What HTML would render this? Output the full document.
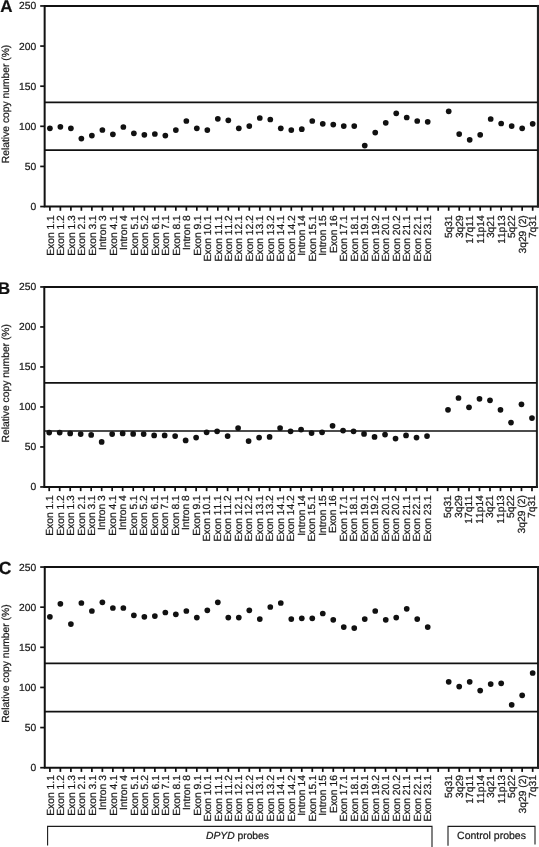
<!DOCTYPE html>
<html><head><meta charset="utf-8"><title>Figure</title>
<style>html,body{margin:0;padding:0;background:#fff;}body{width:539px;height:847px;overflow:hidden;position:relative;font-family:"Liberation Sans",sans-serif;}text{text-rendering:geometricPrecision;font-kerning:none;stroke:#1a1a1a;stroke-width:0.22px;}</style>
</head><body>
<svg width="539" height="847" viewBox="0 0 539 847" style="position:absolute;left:0;top:0;will-change:transform" font-family="'Liberation Sans', sans-serif" font-size="10.3" fill="#1a1a1a">
<rect x="0" y="0" width="539" height="847" fill="#fff"/>
<path d="M537.9 5.95H44.65V206.55H537.9" fill="none" stroke="#111" stroke-width="2.0" stroke-linecap="square"/>
<rect x="536.90" y="4.95" width="2.3" height="202.60" fill="#222"/>
<path d="M44.65 102.40H537.9" stroke="#111" stroke-width="1.7" fill="none"/>
<path d="M44.65 150.20H537.9" stroke="#111" stroke-width="1.7" fill="none"/>
<path d="M40.2 206.55H44.65" stroke="#111" stroke-width="1.7" fill="none"/>
<text x="36.15" y="210.00" text-anchor="end">0</text>
<path d="M40.2 166.43H44.65" stroke="#111" stroke-width="1.7" fill="none"/>
<text x="36.15" y="169.88" text-anchor="end">50</text>
<path d="M40.2 126.31H44.65" stroke="#111" stroke-width="1.7" fill="none"/>
<text x="36.15" y="129.76" text-anchor="end">100</text>
<path d="M40.2 86.19H44.65" stroke="#111" stroke-width="1.7" fill="none"/>
<text x="36.15" y="89.64" text-anchor="end">150</text>
<path d="M40.2 46.07H44.65" stroke="#111" stroke-width="1.7" fill="none"/>
<text x="36.15" y="49.52" text-anchor="end">200</text>
<path d="M40.2 5.95H44.65" stroke="#111" stroke-width="1.7" fill="none"/>
<text x="36.15" y="9.40" text-anchor="end">250</text>
<path d="M49.90 206.55V210.75" stroke="#111" stroke-width="1.7" fill="none"/>
<text transform="translate(53.75 215.20) rotate(-90)" text-anchor="end">Exon 1.1</text>
<path d="M60.39 206.55V210.75" stroke="#111" stroke-width="1.7" fill="none"/>
<text transform="translate(64.24 215.20) rotate(-90)" text-anchor="end">Exon 1.2</text>
<path d="M70.89 206.55V210.75" stroke="#111" stroke-width="1.7" fill="none"/>
<text transform="translate(74.72 215.20) rotate(-90)" text-anchor="end">Exon 1.3</text>
<path d="M81.38 206.55V210.75" stroke="#111" stroke-width="1.7" fill="none"/>
<text transform="translate(85.21 215.20) rotate(-90)" text-anchor="end">Exon 2.1</text>
<path d="M91.88 206.55V210.75" stroke="#111" stroke-width="1.7" fill="none"/>
<text transform="translate(95.69 215.20) rotate(-90)" text-anchor="end">Exon 3.1</text>
<path d="M102.38 206.55V210.75" stroke="#111" stroke-width="1.7" fill="none"/>
<text transform="translate(106.18 215.20) rotate(-90)" text-anchor="end">Intron 3</text>
<path d="M112.87 206.55V210.75" stroke="#111" stroke-width="1.7" fill="none"/>
<text transform="translate(116.66 215.20) rotate(-90)" text-anchor="end">Exon 4.1</text>
<path d="M123.36 206.55V210.75" stroke="#111" stroke-width="1.7" fill="none"/>
<text transform="translate(127.15 215.20) rotate(-90)" text-anchor="end">Intron 4</text>
<path d="M133.86 206.55V210.75" stroke="#111" stroke-width="1.7" fill="none"/>
<text transform="translate(137.63 215.20) rotate(-90)" text-anchor="end">Exon 5.1</text>
<path d="M144.35 206.55V210.75" stroke="#111" stroke-width="1.7" fill="none"/>
<text transform="translate(148.12 215.20) rotate(-90)" text-anchor="end">Exon 5.2</text>
<path d="M154.85 206.55V210.75" stroke="#111" stroke-width="1.7" fill="none"/>
<text transform="translate(158.60 215.20) rotate(-90)" text-anchor="end">Exon 6.1</text>
<path d="M165.34 206.55V210.75" stroke="#111" stroke-width="1.7" fill="none"/>
<text transform="translate(169.09 215.20) rotate(-90)" text-anchor="end">Exon 7.1</text>
<path d="M175.84 206.55V210.75" stroke="#111" stroke-width="1.7" fill="none"/>
<text transform="translate(179.57 215.20) rotate(-90)" text-anchor="end">Exon 8.1</text>
<path d="M186.34 206.55V210.75" stroke="#111" stroke-width="1.7" fill="none"/>
<text transform="translate(190.06 215.20) rotate(-90)" text-anchor="end">Intron 8</text>
<path d="M196.83 206.55V210.75" stroke="#111" stroke-width="1.7" fill="none"/>
<text transform="translate(200.54 215.20) rotate(-90)" text-anchor="end">Exon 9.1</text>
<path d="M207.32 206.55V210.75" stroke="#111" stroke-width="1.7" fill="none"/>
<text transform="translate(211.03 215.20) rotate(-90)" text-anchor="end">Exon 10.1</text>
<path d="M217.82 206.55V210.75" stroke="#111" stroke-width="1.7" fill="none"/>
<text transform="translate(221.51 215.20) rotate(-90)" text-anchor="end">Exon 11.1</text>
<path d="M228.31 206.55V210.75" stroke="#111" stroke-width="1.7" fill="none"/>
<text transform="translate(232.00 215.20) rotate(-90)" text-anchor="end">Exon 11.2</text>
<path d="M238.81 206.55V210.75" stroke="#111" stroke-width="1.7" fill="none"/>
<text transform="translate(242.48 215.20) rotate(-90)" text-anchor="end">Exon 12.1</text>
<path d="M249.30 206.55V210.75" stroke="#111" stroke-width="1.7" fill="none"/>
<text transform="translate(252.97 215.20) rotate(-90)" text-anchor="end">Exon 12.2</text>
<path d="M259.80 206.55V210.75" stroke="#111" stroke-width="1.7" fill="none"/>
<text transform="translate(263.45 215.20) rotate(-90)" text-anchor="end">Exon 13.1</text>
<path d="M270.29 206.55V210.75" stroke="#111" stroke-width="1.7" fill="none"/>
<text transform="translate(273.94 215.20) rotate(-90)" text-anchor="end">Exon 13.2</text>
<path d="M280.79 206.55V210.75" stroke="#111" stroke-width="1.7" fill="none"/>
<text transform="translate(284.42 215.20) rotate(-90)" text-anchor="end">Exon 14.1</text>
<path d="M291.28 206.55V210.75" stroke="#111" stroke-width="1.7" fill="none"/>
<text transform="translate(294.91 215.20) rotate(-90)" text-anchor="end">Exon 14.2</text>
<path d="M301.78 206.55V210.75" stroke="#111" stroke-width="1.7" fill="none"/>
<text transform="translate(305.40 215.20) rotate(-90)" text-anchor="end">Intron 14</text>
<path d="M312.27 206.55V210.75" stroke="#111" stroke-width="1.7" fill="none"/>
<text transform="translate(315.88 215.20) rotate(-90)" text-anchor="end">Exon 15.1</text>
<path d="M322.77 206.55V210.75" stroke="#111" stroke-width="1.7" fill="none"/>
<text transform="translate(326.37 215.20) rotate(-90)" text-anchor="end">Intron 15</text>
<path d="M333.26 206.55V210.75" stroke="#111" stroke-width="1.7" fill="none"/>
<text transform="translate(336.85 215.20) rotate(-90)" text-anchor="end">Exon 16</text>
<path d="M343.76 206.55V210.75" stroke="#111" stroke-width="1.7" fill="none"/>
<text transform="translate(347.34 215.20) rotate(-90)" text-anchor="end">Exon 17.1</text>
<path d="M354.25 206.55V210.75" stroke="#111" stroke-width="1.7" fill="none"/>
<text transform="translate(357.82 215.20) rotate(-90)" text-anchor="end">Exon 18.1</text>
<path d="M364.75 206.55V210.75" stroke="#111" stroke-width="1.7" fill="none"/>
<text transform="translate(368.31 215.20) rotate(-90)" text-anchor="end">Exon 19.1</text>
<path d="M375.24 206.55V210.75" stroke="#111" stroke-width="1.7" fill="none"/>
<text transform="translate(378.79 215.20) rotate(-90)" text-anchor="end">Exon 19.2</text>
<path d="M385.74 206.55V210.75" stroke="#111" stroke-width="1.7" fill="none"/>
<text transform="translate(389.28 215.20) rotate(-90)" text-anchor="end">Exon 20.1</text>
<path d="M396.23 206.55V210.75" stroke="#111" stroke-width="1.7" fill="none"/>
<text transform="translate(399.76 215.20) rotate(-90)" text-anchor="end">Exon 20.2</text>
<path d="M406.73 206.55V210.75" stroke="#111" stroke-width="1.7" fill="none"/>
<text transform="translate(410.25 215.20) rotate(-90)" text-anchor="end">Exon 21.1</text>
<path d="M417.22 206.55V210.75" stroke="#111" stroke-width="1.7" fill="none"/>
<text transform="translate(420.73 215.20) rotate(-90)" text-anchor="end">Exon 22.1</text>
<path d="M427.72 206.55V210.75" stroke="#111" stroke-width="1.7" fill="none"/>
<text transform="translate(431.22 215.20) rotate(-90)" text-anchor="end">Exon 23.1</text>
<path d="M438.21 206.55V210.75" stroke="#111" stroke-width="1.7" fill="none"/>
<path d="M448.71 206.55V210.75" stroke="#111" stroke-width="1.7" fill="none"/>
<text transform="translate(452.19 215.20) rotate(-90)" text-anchor="end">5q31</text>
<path d="M459.20 206.55V210.75" stroke="#111" stroke-width="1.7" fill="none"/>
<text transform="translate(462.67 215.20) rotate(-90)" text-anchor="end">3q29</text>
<path d="M469.70 206.55V210.75" stroke="#111" stroke-width="1.7" fill="none"/>
<text transform="translate(473.16 215.20) rotate(-90)" text-anchor="end">17q11</text>
<path d="M480.19 206.55V210.75" stroke="#111" stroke-width="1.7" fill="none"/>
<text transform="translate(483.64 215.20) rotate(-90)" text-anchor="end">11p14</text>
<path d="M490.69 206.55V210.75" stroke="#111" stroke-width="1.7" fill="none"/>
<text transform="translate(494.13 215.20) rotate(-90)" text-anchor="end">3q21</text>
<path d="M501.18 206.55V210.75" stroke="#111" stroke-width="1.7" fill="none"/>
<text transform="translate(504.61 215.20) rotate(-90)" text-anchor="end">11p13</text>
<path d="M511.68 206.55V210.75" stroke="#111" stroke-width="1.7" fill="none"/>
<text transform="translate(515.10 215.20) rotate(-90)" text-anchor="end">5q22</text>
<path d="M522.17 206.55V210.75" stroke="#111" stroke-width="1.7" fill="none"/>
<text transform="translate(525.58 215.20) rotate(-90)" text-anchor="end">3q29 (2)</text>
<path d="M532.67 206.55V210.75" stroke="#111" stroke-width="1.7" fill="none"/>
<text transform="translate(536.07 215.20) rotate(-90)" text-anchor="end">7q31</text>
<circle cx="49.90" cy="128.30" r="2.85" fill="#111"/>
<circle cx="60.39" cy="126.80" r="2.85" fill="#111"/>
<circle cx="70.89" cy="128.30" r="2.85" fill="#111"/>
<circle cx="81.38" cy="138.60" r="2.85" fill="#111"/>
<circle cx="91.88" cy="135.60" r="2.85" fill="#111"/>
<circle cx="102.38" cy="130.00" r="2.85" fill="#111"/>
<circle cx="112.87" cy="134.30" r="2.85" fill="#111"/>
<circle cx="123.36" cy="127.00" r="2.85" fill="#111"/>
<circle cx="133.86" cy="133.30" r="2.85" fill="#111"/>
<circle cx="144.35" cy="134.80" r="2.85" fill="#111"/>
<circle cx="154.85" cy="134.00" r="2.85" fill="#111"/>
<circle cx="165.34" cy="135.60" r="2.85" fill="#111"/>
<circle cx="175.84" cy="130.10" r="2.85" fill="#111"/>
<circle cx="186.34" cy="121.00" r="2.85" fill="#111"/>
<circle cx="196.83" cy="128.30" r="2.85" fill="#111"/>
<circle cx="207.32" cy="130.10" r="2.85" fill="#111"/>
<circle cx="217.82" cy="118.80" r="2.85" fill="#111"/>
<circle cx="228.31" cy="120.30" r="2.85" fill="#111"/>
<circle cx="238.81" cy="128.30" r="2.85" fill="#111"/>
<circle cx="249.30" cy="126.10" r="2.85" fill="#111"/>
<circle cx="259.80" cy="118.00" r="2.85" fill="#111"/>
<circle cx="270.29" cy="119.50" r="2.85" fill="#111"/>
<circle cx="280.79" cy="128.30" r="2.85" fill="#111"/>
<circle cx="291.28" cy="130.10" r="2.85" fill="#111"/>
<circle cx="301.78" cy="129.20" r="2.85" fill="#111"/>
<circle cx="312.27" cy="121.00" r="2.85" fill="#111"/>
<circle cx="322.77" cy="123.80" r="2.85" fill="#111"/>
<circle cx="333.26" cy="124.60" r="2.85" fill="#111"/>
<circle cx="343.76" cy="126.10" r="2.85" fill="#111"/>
<circle cx="354.25" cy="126.10" r="2.85" fill="#111"/>
<circle cx="364.75" cy="145.60" r="2.85" fill="#111"/>
<circle cx="375.24" cy="132.60" r="2.85" fill="#111"/>
<circle cx="385.74" cy="122.80" r="2.85" fill="#111"/>
<circle cx="396.23" cy="113.30" r="2.85" fill="#111"/>
<circle cx="406.73" cy="117.50" r="2.85" fill="#111"/>
<circle cx="417.22" cy="121.00" r="2.85" fill="#111"/>
<circle cx="427.72" cy="121.80" r="2.85" fill="#111"/>
<circle cx="448.71" cy="111.30" r="2.85" fill="#111"/>
<circle cx="459.20" cy="134.10" r="2.85" fill="#111"/>
<circle cx="469.70" cy="139.80" r="2.85" fill="#111"/>
<circle cx="480.19" cy="134.80" r="2.85" fill="#111"/>
<circle cx="490.69" cy="119.00" r="2.85" fill="#111"/>
<circle cx="501.18" cy="123.50" r="2.85" fill="#111"/>
<circle cx="511.68" cy="126.10" r="2.85" fill="#111"/>
<circle cx="522.17" cy="128.30" r="2.85" fill="#111"/>
<circle cx="532.67" cy="123.80" r="2.85" fill="#111"/>
<text transform="translate(9.0 103.95) rotate(-90)" text-anchor="middle">Relative copy number (%)</text>
<text x="0.2" y="12.1" font-size="17" font-weight="bold" fill="#111">A</text>
<path d="M536.9 286.95H44.3V486.95H536.9" fill="none" stroke="#111" stroke-width="2.0" stroke-linecap="square"/>
<rect x="535.90" y="285.95" width="2.0" height="202.00" fill="#222"/>
<path d="M44.3 382.80H536.9" stroke="#111" stroke-width="1.7" fill="none"/>
<path d="M44.3 431.00H536.9" stroke="#111" stroke-width="1.7" fill="none"/>
<path d="M40.2 486.95H44.3" stroke="#111" stroke-width="1.7" fill="none"/>
<text x="36.15" y="490.40" text-anchor="end">0</text>
<path d="M40.2 446.95H44.3" stroke="#111" stroke-width="1.7" fill="none"/>
<text x="36.15" y="450.40" text-anchor="end">50</text>
<path d="M40.2 406.95H44.3" stroke="#111" stroke-width="1.7" fill="none"/>
<text x="36.15" y="410.40" text-anchor="end">100</text>
<path d="M40.2 366.95H44.3" stroke="#111" stroke-width="1.7" fill="none"/>
<text x="36.15" y="370.40" text-anchor="end">150</text>
<path d="M40.2 326.95H44.3" stroke="#111" stroke-width="1.7" fill="none"/>
<text x="36.15" y="330.40" text-anchor="end">200</text>
<path d="M40.2 286.95H44.3" stroke="#111" stroke-width="1.7" fill="none"/>
<text x="36.15" y="290.40" text-anchor="end">250</text>
<path d="M49.20 486.95V491.15" stroke="#111" stroke-width="1.7" fill="none"/>
<text transform="translate(53.05 495.15) rotate(-90)" text-anchor="end">Exon 1.1</text>
<path d="M59.69 486.95V491.15" stroke="#111" stroke-width="1.7" fill="none"/>
<text transform="translate(63.54 495.15) rotate(-90)" text-anchor="end">Exon 1.2</text>
<path d="M70.19 486.95V491.15" stroke="#111" stroke-width="1.7" fill="none"/>
<text transform="translate(74.02 495.15) rotate(-90)" text-anchor="end">Exon 1.3</text>
<path d="M80.68 486.95V491.15" stroke="#111" stroke-width="1.7" fill="none"/>
<text transform="translate(84.51 495.15) rotate(-90)" text-anchor="end">Exon 2.1</text>
<path d="M91.18 486.95V491.15" stroke="#111" stroke-width="1.7" fill="none"/>
<text transform="translate(94.99 495.15) rotate(-90)" text-anchor="end">Exon 3.1</text>
<path d="M101.67 486.95V491.15" stroke="#111" stroke-width="1.7" fill="none"/>
<text transform="translate(105.48 495.15) rotate(-90)" text-anchor="end">Intron 3</text>
<path d="M112.17 486.95V491.15" stroke="#111" stroke-width="1.7" fill="none"/>
<text transform="translate(115.96 495.15) rotate(-90)" text-anchor="end">Exon 4.1</text>
<path d="M122.66 486.95V491.15" stroke="#111" stroke-width="1.7" fill="none"/>
<text transform="translate(126.45 495.15) rotate(-90)" text-anchor="end">Intron 4</text>
<path d="M133.16 486.95V491.15" stroke="#111" stroke-width="1.7" fill="none"/>
<text transform="translate(136.93 495.15) rotate(-90)" text-anchor="end">Exon 5.1</text>
<path d="M143.66 486.95V491.15" stroke="#111" stroke-width="1.7" fill="none"/>
<text transform="translate(147.42 495.15) rotate(-90)" text-anchor="end">Exon 5.2</text>
<path d="M154.15 486.95V491.15" stroke="#111" stroke-width="1.7" fill="none"/>
<text transform="translate(157.90 495.15) rotate(-90)" text-anchor="end">Exon 6.1</text>
<path d="M164.65 486.95V491.15" stroke="#111" stroke-width="1.7" fill="none"/>
<text transform="translate(168.39 495.15) rotate(-90)" text-anchor="end">Exon 7.1</text>
<path d="M175.14 486.95V491.15" stroke="#111" stroke-width="1.7" fill="none"/>
<text transform="translate(178.87 495.15) rotate(-90)" text-anchor="end">Exon 8.1</text>
<path d="M185.64 486.95V491.15" stroke="#111" stroke-width="1.7" fill="none"/>
<text transform="translate(189.36 495.15) rotate(-90)" text-anchor="end">Intron 8</text>
<path d="M196.13 486.95V491.15" stroke="#111" stroke-width="1.7" fill="none"/>
<text transform="translate(199.84 495.15) rotate(-90)" text-anchor="end">Exon 9.1</text>
<path d="M206.62 486.95V491.15" stroke="#111" stroke-width="1.7" fill="none"/>
<text transform="translate(210.33 495.15) rotate(-90)" text-anchor="end">Exon 10.1</text>
<path d="M217.12 486.95V491.15" stroke="#111" stroke-width="1.7" fill="none"/>
<text transform="translate(220.81 495.15) rotate(-90)" text-anchor="end">Exon 11.1</text>
<path d="M227.62 486.95V491.15" stroke="#111" stroke-width="1.7" fill="none"/>
<text transform="translate(231.30 495.15) rotate(-90)" text-anchor="end">Exon 11.2</text>
<path d="M238.11 486.95V491.15" stroke="#111" stroke-width="1.7" fill="none"/>
<text transform="translate(241.78 495.15) rotate(-90)" text-anchor="end">Exon 12.1</text>
<path d="M248.60 486.95V491.15" stroke="#111" stroke-width="1.7" fill="none"/>
<text transform="translate(252.27 495.15) rotate(-90)" text-anchor="end">Exon 12.2</text>
<path d="M259.10 486.95V491.15" stroke="#111" stroke-width="1.7" fill="none"/>
<text transform="translate(262.75 495.15) rotate(-90)" text-anchor="end">Exon 13.1</text>
<path d="M269.59 486.95V491.15" stroke="#111" stroke-width="1.7" fill="none"/>
<text transform="translate(273.24 495.15) rotate(-90)" text-anchor="end">Exon 13.2</text>
<path d="M280.09 486.95V491.15" stroke="#111" stroke-width="1.7" fill="none"/>
<text transform="translate(283.72 495.15) rotate(-90)" text-anchor="end">Exon 14.1</text>
<path d="M290.58 486.95V491.15" stroke="#111" stroke-width="1.7" fill="none"/>
<text transform="translate(294.21 495.15) rotate(-90)" text-anchor="end">Exon 14.2</text>
<path d="M301.08 486.95V491.15" stroke="#111" stroke-width="1.7" fill="none"/>
<text transform="translate(304.70 495.15) rotate(-90)" text-anchor="end">Intron 14</text>
<path d="M311.57 486.95V491.15" stroke="#111" stroke-width="1.7" fill="none"/>
<text transform="translate(315.18 495.15) rotate(-90)" text-anchor="end">Exon 15.1</text>
<path d="M322.07 486.95V491.15" stroke="#111" stroke-width="1.7" fill="none"/>
<text transform="translate(325.67 495.15) rotate(-90)" text-anchor="end">Intron 15</text>
<path d="M332.56 486.95V491.15" stroke="#111" stroke-width="1.7" fill="none"/>
<text transform="translate(336.15 495.15) rotate(-90)" text-anchor="end">Exon 16</text>
<path d="M343.06 486.95V491.15" stroke="#111" stroke-width="1.7" fill="none"/>
<text transform="translate(346.64 495.15) rotate(-90)" text-anchor="end">Exon 17.1</text>
<path d="M353.55 486.95V491.15" stroke="#111" stroke-width="1.7" fill="none"/>
<text transform="translate(357.12 495.15) rotate(-90)" text-anchor="end">Exon 18.1</text>
<path d="M364.05 486.95V491.15" stroke="#111" stroke-width="1.7" fill="none"/>
<text transform="translate(367.61 495.15) rotate(-90)" text-anchor="end">Exon 19.1</text>
<path d="M374.54 486.95V491.15" stroke="#111" stroke-width="1.7" fill="none"/>
<text transform="translate(378.09 495.15) rotate(-90)" text-anchor="end">Exon 19.2</text>
<path d="M385.04 486.95V491.15" stroke="#111" stroke-width="1.7" fill="none"/>
<text transform="translate(388.58 495.15) rotate(-90)" text-anchor="end">Exon 20.1</text>
<path d="M395.53 486.95V491.15" stroke="#111" stroke-width="1.7" fill="none"/>
<text transform="translate(399.06 495.15) rotate(-90)" text-anchor="end">Exon 20.2</text>
<path d="M406.03 486.95V491.15" stroke="#111" stroke-width="1.7" fill="none"/>
<text transform="translate(409.55 495.15) rotate(-90)" text-anchor="end">Exon 21.1</text>
<path d="M416.52 486.95V491.15" stroke="#111" stroke-width="1.7" fill="none"/>
<text transform="translate(420.03 495.15) rotate(-90)" text-anchor="end">Exon 22.1</text>
<path d="M427.02 486.95V491.15" stroke="#111" stroke-width="1.7" fill="none"/>
<text transform="translate(430.52 495.15) rotate(-90)" text-anchor="end">Exon 23.1</text>
<path d="M437.51 486.95V491.15" stroke="#111" stroke-width="1.7" fill="none"/>
<path d="M448.01 486.95V491.15" stroke="#111" stroke-width="1.7" fill="none"/>
<text transform="translate(451.49 495.15) rotate(-90)" text-anchor="end">5q31</text>
<path d="M458.50 486.95V491.15" stroke="#111" stroke-width="1.7" fill="none"/>
<text transform="translate(461.97 495.15) rotate(-90)" text-anchor="end">3q29</text>
<path d="M469.00 486.95V491.15" stroke="#111" stroke-width="1.7" fill="none"/>
<text transform="translate(472.46 495.15) rotate(-90)" text-anchor="end">17q11</text>
<path d="M479.49 486.95V491.15" stroke="#111" stroke-width="1.7" fill="none"/>
<text transform="translate(482.94 495.15) rotate(-90)" text-anchor="end">11p14</text>
<path d="M489.99 486.95V491.15" stroke="#111" stroke-width="1.7" fill="none"/>
<text transform="translate(493.43 495.15) rotate(-90)" text-anchor="end">3q21</text>
<path d="M500.48 486.95V491.15" stroke="#111" stroke-width="1.7" fill="none"/>
<text transform="translate(503.91 495.15) rotate(-90)" text-anchor="end">11p13</text>
<path d="M510.98 486.95V491.15" stroke="#111" stroke-width="1.7" fill="none"/>
<text transform="translate(514.40 495.15) rotate(-90)" text-anchor="end">5q22</text>
<path d="M521.47 486.95V491.15" stroke="#111" stroke-width="1.7" fill="none"/>
<text transform="translate(524.88 495.15) rotate(-90)" text-anchor="end">3q29 (2)</text>
<path d="M531.97 486.95V491.15" stroke="#111" stroke-width="1.7" fill="none"/>
<text transform="translate(535.37 495.15) rotate(-90)" text-anchor="end">7q31</text>
<circle cx="49.20" cy="432.60" r="2.85" fill="#111"/>
<circle cx="59.69" cy="432.60" r="2.85" fill="#111"/>
<circle cx="70.19" cy="433.40" r="2.85" fill="#111"/>
<circle cx="80.68" cy="434.10" r="2.85" fill="#111"/>
<circle cx="91.18" cy="434.90" r="2.85" fill="#111"/>
<circle cx="101.67" cy="441.90" r="2.85" fill="#111"/>
<circle cx="112.17" cy="434.10" r="2.85" fill="#111"/>
<circle cx="122.66" cy="433.40" r="2.85" fill="#111"/>
<circle cx="133.16" cy="433.90" r="2.85" fill="#111"/>
<circle cx="143.66" cy="434.10" r="2.85" fill="#111"/>
<circle cx="154.15" cy="435.40" r="2.85" fill="#111"/>
<circle cx="164.65" cy="435.40" r="2.85" fill="#111"/>
<circle cx="175.14" cy="436.10" r="2.85" fill="#111"/>
<circle cx="185.64" cy="440.40" r="2.85" fill="#111"/>
<circle cx="196.13" cy="437.60" r="2.85" fill="#111"/>
<circle cx="206.62" cy="432.30" r="2.85" fill="#111"/>
<circle cx="217.12" cy="431.30" r="2.85" fill="#111"/>
<circle cx="227.62" cy="436.10" r="2.85" fill="#111"/>
<circle cx="238.11" cy="428.10" r="2.85" fill="#111"/>
<circle cx="248.60" cy="441.10" r="2.85" fill="#111"/>
<circle cx="259.10" cy="437.60" r="2.85" fill="#111"/>
<circle cx="269.59" cy="436.90" r="2.85" fill="#111"/>
<circle cx="280.09" cy="428.10" r="2.85" fill="#111"/>
<circle cx="290.58" cy="431.30" r="2.85" fill="#111"/>
<circle cx="301.08" cy="429.60" r="2.85" fill="#111"/>
<circle cx="311.57" cy="433.10" r="2.85" fill="#111"/>
<circle cx="322.07" cy="432.30" r="2.85" fill="#111"/>
<circle cx="332.56" cy="425.80" r="2.85" fill="#111"/>
<circle cx="343.06" cy="430.60" r="2.85" fill="#111"/>
<circle cx="353.55" cy="431.30" r="2.85" fill="#111"/>
<circle cx="364.05" cy="433.90" r="2.85" fill="#111"/>
<circle cx="374.54" cy="436.90" r="2.85" fill="#111"/>
<circle cx="385.04" cy="434.60" r="2.85" fill="#111"/>
<circle cx="395.53" cy="438.60" r="2.85" fill="#111"/>
<circle cx="406.03" cy="435.40" r="2.85" fill="#111"/>
<circle cx="416.52" cy="437.60" r="2.85" fill="#111"/>
<circle cx="427.02" cy="436.10" r="2.85" fill="#111"/>
<circle cx="448.01" cy="409.80" r="2.85" fill="#111"/>
<circle cx="458.50" cy="398.00" r="2.85" fill="#111"/>
<circle cx="469.00" cy="407.30" r="2.85" fill="#111"/>
<circle cx="479.49" cy="398.80" r="2.85" fill="#111"/>
<circle cx="489.99" cy="400.30" r="2.85" fill="#111"/>
<circle cx="500.48" cy="409.80" r="2.85" fill="#111"/>
<circle cx="510.98" cy="422.60" r="2.85" fill="#111"/>
<circle cx="521.47" cy="404.30" r="2.85" fill="#111"/>
<circle cx="531.97" cy="418.10" r="2.85" fill="#111"/>
<text transform="translate(9.0 383.30) rotate(-90)" text-anchor="middle">Relative copy number (%)</text>
<text x="-1.9" y="294.4" font-size="16.8" font-weight="bold" fill="#111">B</text>
<path d="M538.0 567.05H44.75V767.7H538.0" fill="none" stroke="#111" stroke-width="2.0" stroke-linecap="square"/>
<rect x="537.00" y="566.05" width="2.3" height="202.65" fill="#222"/>
<path d="M44.75 663.30H538.0" stroke="#111" stroke-width="1.7" fill="none"/>
<path d="M44.75 711.60H538.0" stroke="#111" stroke-width="1.7" fill="none"/>
<path d="M40.2 767.70H44.75" stroke="#111" stroke-width="1.7" fill="none"/>
<text x="36.15" y="771.15" text-anchor="end">0</text>
<path d="M40.2 727.57H44.75" stroke="#111" stroke-width="1.7" fill="none"/>
<text x="36.15" y="731.02" text-anchor="end">50</text>
<path d="M40.2 687.44H44.75" stroke="#111" stroke-width="1.7" fill="none"/>
<text x="36.15" y="690.89" text-anchor="end">100</text>
<path d="M40.2 647.31H44.75" stroke="#111" stroke-width="1.7" fill="none"/>
<text x="36.15" y="650.76" text-anchor="end">150</text>
<path d="M40.2 607.18H44.75" stroke="#111" stroke-width="1.7" fill="none"/>
<text x="36.15" y="610.63" text-anchor="end">200</text>
<path d="M40.2 567.05H44.75" stroke="#111" stroke-width="1.7" fill="none"/>
<text x="36.15" y="570.50" text-anchor="end">250</text>
<path d="M49.90 767.7V771.90" stroke="#111" stroke-width="1.7" fill="none"/>
<text transform="translate(53.75 775.10) rotate(-90)" text-anchor="end">Exon 1.1</text>
<path d="M60.39 767.7V771.90" stroke="#111" stroke-width="1.7" fill="none"/>
<text transform="translate(64.24 775.10) rotate(-90)" text-anchor="end">Exon 1.2</text>
<path d="M70.89 767.7V771.90" stroke="#111" stroke-width="1.7" fill="none"/>
<text transform="translate(74.72 775.10) rotate(-90)" text-anchor="end">Exon 1.3</text>
<path d="M81.38 767.7V771.90" stroke="#111" stroke-width="1.7" fill="none"/>
<text transform="translate(85.21 775.10) rotate(-90)" text-anchor="end">Exon 2.1</text>
<path d="M91.88 767.7V771.90" stroke="#111" stroke-width="1.7" fill="none"/>
<text transform="translate(95.69 775.10) rotate(-90)" text-anchor="end">Exon 3.1</text>
<path d="M102.38 767.7V771.90" stroke="#111" stroke-width="1.7" fill="none"/>
<text transform="translate(106.18 775.10) rotate(-90)" text-anchor="end">Intron 3</text>
<path d="M112.87 767.7V771.90" stroke="#111" stroke-width="1.7" fill="none"/>
<text transform="translate(116.66 775.10) rotate(-90)" text-anchor="end">Exon 4.1</text>
<path d="M123.36 767.7V771.90" stroke="#111" stroke-width="1.7" fill="none"/>
<text transform="translate(127.15 775.10) rotate(-90)" text-anchor="end">Intron 4</text>
<path d="M133.86 767.7V771.90" stroke="#111" stroke-width="1.7" fill="none"/>
<text transform="translate(137.63 775.10) rotate(-90)" text-anchor="end">Exon 5.1</text>
<path d="M144.35 767.7V771.90" stroke="#111" stroke-width="1.7" fill="none"/>
<text transform="translate(148.12 775.10) rotate(-90)" text-anchor="end">Exon 5.2</text>
<path d="M154.85 767.7V771.90" stroke="#111" stroke-width="1.7" fill="none"/>
<text transform="translate(158.60 775.10) rotate(-90)" text-anchor="end">Exon 6.1</text>
<path d="M165.34 767.7V771.90" stroke="#111" stroke-width="1.7" fill="none"/>
<text transform="translate(169.09 775.10) rotate(-90)" text-anchor="end">Exon 7.1</text>
<path d="M175.84 767.7V771.90" stroke="#111" stroke-width="1.7" fill="none"/>
<text transform="translate(179.57 775.10) rotate(-90)" text-anchor="end">Exon 8.1</text>
<path d="M186.34 767.7V771.90" stroke="#111" stroke-width="1.7" fill="none"/>
<text transform="translate(190.06 775.10) rotate(-90)" text-anchor="end">Intron 8</text>
<path d="M196.83 767.7V771.90" stroke="#111" stroke-width="1.7" fill="none"/>
<text transform="translate(200.54 775.10) rotate(-90)" text-anchor="end">Exon 9.1</text>
<path d="M207.32 767.7V771.90" stroke="#111" stroke-width="1.7" fill="none"/>
<text transform="translate(211.03 775.10) rotate(-90)" text-anchor="end">Exon 10.1</text>
<path d="M217.82 767.7V771.90" stroke="#111" stroke-width="1.7" fill="none"/>
<text transform="translate(221.51 775.10) rotate(-90)" text-anchor="end">Exon 11.1</text>
<path d="M228.31 767.7V771.90" stroke="#111" stroke-width="1.7" fill="none"/>
<text transform="translate(232.00 775.10) rotate(-90)" text-anchor="end">Exon 11.2</text>
<path d="M238.81 767.7V771.90" stroke="#111" stroke-width="1.7" fill="none"/>
<text transform="translate(242.48 775.10) rotate(-90)" text-anchor="end">Exon 12.1</text>
<path d="M249.30 767.7V771.90" stroke="#111" stroke-width="1.7" fill="none"/>
<text transform="translate(252.97 775.10) rotate(-90)" text-anchor="end">Exon 12.2</text>
<path d="M259.80 767.7V771.90" stroke="#111" stroke-width="1.7" fill="none"/>
<text transform="translate(263.45 775.10) rotate(-90)" text-anchor="end">Exon 13.1</text>
<path d="M270.29 767.7V771.90" stroke="#111" stroke-width="1.7" fill="none"/>
<text transform="translate(273.94 775.10) rotate(-90)" text-anchor="end">Exon 13.2</text>
<path d="M280.79 767.7V771.90" stroke="#111" stroke-width="1.7" fill="none"/>
<text transform="translate(284.42 775.10) rotate(-90)" text-anchor="end">Exon 14.1</text>
<path d="M291.28 767.7V771.90" stroke="#111" stroke-width="1.7" fill="none"/>
<text transform="translate(294.91 775.10) rotate(-90)" text-anchor="end">Exon 14.2</text>
<path d="M301.78 767.7V771.90" stroke="#111" stroke-width="1.7" fill="none"/>
<text transform="translate(305.40 775.10) rotate(-90)" text-anchor="end">Intron 14</text>
<path d="M312.27 767.7V771.90" stroke="#111" stroke-width="1.7" fill="none"/>
<text transform="translate(315.88 775.10) rotate(-90)" text-anchor="end">Exon 15.1</text>
<path d="M322.77 767.7V771.90" stroke="#111" stroke-width="1.7" fill="none"/>
<text transform="translate(326.37 775.10) rotate(-90)" text-anchor="end">Intron 15</text>
<path d="M333.26 767.7V771.90" stroke="#111" stroke-width="1.7" fill="none"/>
<text transform="translate(336.85 775.10) rotate(-90)" text-anchor="end">Exon 16</text>
<path d="M343.76 767.7V771.90" stroke="#111" stroke-width="1.7" fill="none"/>
<text transform="translate(347.34 775.10) rotate(-90)" text-anchor="end">Exon 17.1</text>
<path d="M354.25 767.7V771.90" stroke="#111" stroke-width="1.7" fill="none"/>
<text transform="translate(357.82 775.10) rotate(-90)" text-anchor="end">Exon 18.1</text>
<path d="M364.75 767.7V771.90" stroke="#111" stroke-width="1.7" fill="none"/>
<text transform="translate(368.31 775.10) rotate(-90)" text-anchor="end">Exon 19.1</text>
<path d="M375.24 767.7V771.90" stroke="#111" stroke-width="1.7" fill="none"/>
<text transform="translate(378.79 775.10) rotate(-90)" text-anchor="end">Exon 19.2</text>
<path d="M385.74 767.7V771.90" stroke="#111" stroke-width="1.7" fill="none"/>
<text transform="translate(389.28 775.10) rotate(-90)" text-anchor="end">Exon 20.1</text>
<path d="M396.23 767.7V771.90" stroke="#111" stroke-width="1.7" fill="none"/>
<text transform="translate(399.76 775.10) rotate(-90)" text-anchor="end">Exon 20.2</text>
<path d="M406.73 767.7V771.90" stroke="#111" stroke-width="1.7" fill="none"/>
<text transform="translate(410.25 775.10) rotate(-90)" text-anchor="end">Exon 21.1</text>
<path d="M417.22 767.7V771.90" stroke="#111" stroke-width="1.7" fill="none"/>
<text transform="translate(420.73 775.10) rotate(-90)" text-anchor="end">Exon 22.1</text>
<path d="M427.72 767.7V771.90" stroke="#111" stroke-width="1.7" fill="none"/>
<text transform="translate(431.22 775.10) rotate(-90)" text-anchor="end">Exon 23.1</text>
<path d="M438.21 767.7V771.90" stroke="#111" stroke-width="1.7" fill="none"/>
<path d="M448.71 767.7V771.90" stroke="#111" stroke-width="1.7" fill="none"/>
<text transform="translate(452.19 775.10) rotate(-90)" text-anchor="end">5q31</text>
<path d="M459.20 767.7V771.90" stroke="#111" stroke-width="1.7" fill="none"/>
<text transform="translate(462.67 775.10) rotate(-90)" text-anchor="end">3q29</text>
<path d="M469.70 767.7V771.90" stroke="#111" stroke-width="1.7" fill="none"/>
<text transform="translate(473.16 775.10) rotate(-90)" text-anchor="end">17q11</text>
<path d="M480.19 767.7V771.90" stroke="#111" stroke-width="1.7" fill="none"/>
<text transform="translate(483.64 775.10) rotate(-90)" text-anchor="end">11p14</text>
<path d="M490.69 767.7V771.90" stroke="#111" stroke-width="1.7" fill="none"/>
<text transform="translate(494.13 775.10) rotate(-90)" text-anchor="end">3q21</text>
<path d="M501.18 767.7V771.90" stroke="#111" stroke-width="1.7" fill="none"/>
<text transform="translate(504.61 775.10) rotate(-90)" text-anchor="end">11p13</text>
<path d="M511.68 767.7V771.90" stroke="#111" stroke-width="1.7" fill="none"/>
<text transform="translate(515.10 775.10) rotate(-90)" text-anchor="end">5q22</text>
<path d="M522.17 767.7V771.90" stroke="#111" stroke-width="1.7" fill="none"/>
<text transform="translate(525.58 775.10) rotate(-90)" text-anchor="end">3q29 (2)</text>
<path d="M532.67 767.7V771.90" stroke="#111" stroke-width="1.7" fill="none"/>
<text transform="translate(536.07 775.10) rotate(-90)" text-anchor="end">7q31</text>
<circle cx="49.90" cy="616.80" r="2.85" fill="#111"/>
<circle cx="60.39" cy="603.80" r="2.85" fill="#111"/>
<circle cx="70.89" cy="624.10" r="2.85" fill="#111"/>
<circle cx="81.38" cy="603.00" r="2.85" fill="#111"/>
<circle cx="91.88" cy="611.00" r="2.85" fill="#111"/>
<circle cx="102.38" cy="602.30" r="2.85" fill="#111"/>
<circle cx="112.87" cy="608.00" r="2.85" fill="#111"/>
<circle cx="123.36" cy="608.00" r="2.85" fill="#111"/>
<circle cx="133.86" cy="615.30" r="2.85" fill="#111"/>
<circle cx="144.35" cy="616.80" r="2.85" fill="#111"/>
<circle cx="154.85" cy="616.10" r="2.85" fill="#111"/>
<circle cx="165.34" cy="612.50" r="2.85" fill="#111"/>
<circle cx="175.84" cy="614.30" r="2.85" fill="#111"/>
<circle cx="186.34" cy="611.00" r="2.85" fill="#111"/>
<circle cx="196.83" cy="617.60" r="2.85" fill="#111"/>
<circle cx="207.32" cy="610.30" r="2.85" fill="#111"/>
<circle cx="217.82" cy="602.30" r="2.85" fill="#111"/>
<circle cx="228.31" cy="617.60" r="2.85" fill="#111"/>
<circle cx="238.81" cy="617.60" r="2.85" fill="#111"/>
<circle cx="249.30" cy="610.30" r="2.85" fill="#111"/>
<circle cx="259.80" cy="619.10" r="2.85" fill="#111"/>
<circle cx="270.29" cy="607.00" r="2.85" fill="#111"/>
<circle cx="280.79" cy="603.00" r="2.85" fill="#111"/>
<circle cx="291.28" cy="619.10" r="2.85" fill="#111"/>
<circle cx="301.78" cy="618.30" r="2.85" fill="#111"/>
<circle cx="312.27" cy="618.30" r="2.85" fill="#111"/>
<circle cx="322.77" cy="613.50" r="2.85" fill="#111"/>
<circle cx="333.26" cy="619.80" r="2.85" fill="#111"/>
<circle cx="343.76" cy="627.10" r="2.85" fill="#111"/>
<circle cx="354.25" cy="628.10" r="2.85" fill="#111"/>
<circle cx="364.75" cy="619.10" r="2.85" fill="#111"/>
<circle cx="375.24" cy="611.00" r="2.85" fill="#111"/>
<circle cx="385.74" cy="619.80" r="2.85" fill="#111"/>
<circle cx="396.23" cy="617.60" r="2.85" fill="#111"/>
<circle cx="406.73" cy="608.80" r="2.85" fill="#111"/>
<circle cx="417.22" cy="619.10" r="2.85" fill="#111"/>
<circle cx="427.72" cy="627.10" r="2.85" fill="#111"/>
<circle cx="448.71" cy="681.80" r="2.85" fill="#111"/>
<circle cx="459.20" cy="686.60" r="2.85" fill="#111"/>
<circle cx="469.70" cy="681.80" r="2.85" fill="#111"/>
<circle cx="480.19" cy="690.60" r="2.85" fill="#111"/>
<circle cx="490.69" cy="684.10" r="2.85" fill="#111"/>
<circle cx="501.18" cy="683.30" r="2.85" fill="#111"/>
<circle cx="511.68" cy="704.80" r="2.85" fill="#111"/>
<circle cx="522.17" cy="695.30" r="2.85" fill="#111"/>
<circle cx="532.67" cy="673.00" r="2.85" fill="#111"/>
<text transform="translate(9.0 663.60) rotate(-90)" text-anchor="middle">Relative copy number (%)</text>
<text x="-1.3" y="574.0" font-size="17.6" font-weight="bold" fill="#111">C</text>
<path d="M47.6 845.5V826.4H432V847" fill="none" stroke="#1c1c1c" stroke-width="1.1"/>
<path d="M448 845.8V826.4H535V844.5" fill="none" stroke="#1c1c1c" stroke-width="1.1"/>
<text x="237.5" y="839" text-anchor="middle" font-size="10.3"><tspan font-style="italic">DPYD</tspan> probes</text>
<text x="491.5" y="839" text-anchor="middle" font-size="10.5">Control probes</text>
</svg>
</body></html>
